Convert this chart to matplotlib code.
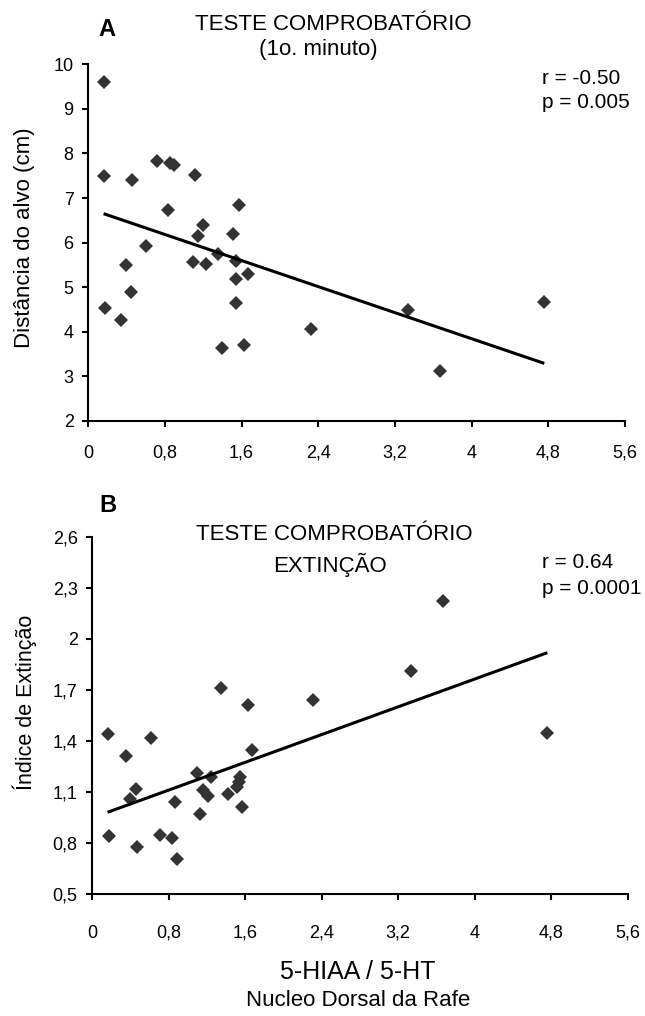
import numpy as np
import matplotlib
matplotlib.use('Agg')
import matplotlib.pyplot as plt

plt.rcParams['font.family'] = ['Liberation Sans', 'DejaVu Sans']

# panel A: distance to target (1st minute)
XA = [0.16, 0.16, 0.46, 0.72, 0.85, 0.89, 1.11, 0.83, 1.57, 1.20,
      1.14, 1.51, 0.60, 0.39, 0.45, 0.17, 0.34, 1.09, 1.23, 1.35,
      1.54, 1.67, 1.54, 1.54, 1.40, 1.63, 2.32, 3.34, 3.67, 4.76]
YA = [9.60, 7.50, 7.40, 7.83, 7.78, 7.74, 7.51, 6.73, 6.84, 6.40,
      6.16, 6.20, 5.93, 5.49, 4.89, 4.53, 4.27, 5.57, 5.53, 5.75,
      5.58, 5.30, 5.18, 4.65, 3.64, 3.71, 4.07, 4.49, 3.13, 4.67]

# panel B: extinction index
XB = [1.35, 1.63, 0.16, 0.61, 0.35, 1.67, 1.10, 1.24, 1.55, 1.53,
      1.51, 0.46, 0.39, 1.16, 1.21, 1.42, 0.87, 1.57, 1.13, 0.17,
      0.47, 0.71, 0.83, 0.89, 2.31, 3.33, 3.67, 4.76]
YB = [1.71, 1.61, 1.44, 1.42, 1.31, 1.35, 1.21, 1.19, 1.19, 1.16,
      1.13, 1.12, 1.06, 1.11, 1.08, 1.09, 1.04, 1.01, 0.97, 0.84,
      0.78, 0.85, 0.83, 0.71, 1.64, 1.81, 2.22, 1.45]

XTICKS = [0, 0.8, 1.6, 2.4, 3.2, 4.0, 4.8, 5.6]
XTICKLABELS = ['0', '0,8', '1,6', '2,4', '3,2', '4', '4,8', '5,6']
YTICKS_A = [2, 3, 4, 5, 6, 7, 8, 9, 10]
YTICKS_B = [0.5, 0.8, 1.1, 1.4, 1.7, 2.0, 2.3, 2.6]
YTICKLABELS_B = ['0,5', '0,8', '1,1', '1,4', '1,7', '2', '2,3', '2,6']

W, H = 645, 1016
fig = plt.figure(figsize=(W / 100, H / 100), dpi=100)

def px(x, y):
    return x / W, 1 - y / H

def axes_px(l, t, r, b):
    return [l / W, 1 - b / H, (r - l) / W, (b - t) / H]

def style(ax, xpad):
    for s in ['top', 'right']:
        ax.spines[s].set_visible(False)
    for s in ['left', 'bottom']:
        ax.spines[s].set_linewidth(1.5)
    ax.tick_params(direction='out', length=4.5, width=1.5, labelsize=13)
    ax.tick_params(axis='y', pad=6)
    ax.tick_params(axis='x', pad=xpad)
    ax.set_xlim(0, 5.6)
    ax.set_xticks(XTICKS)
    ax.set_xticklabels(XTICKLABELS)

def scatter_fit(ax, x, y):
    x = np.array(x)
    y = np.array(y)
    ax.plot(x, y, 'D', color='#333333', ms=7.3, mew=0, clip_on=False)
    k, b = np.polyfit(x, y, 1)
    xx = np.array([x.min(), x.max()])
    ax.plot(xx, k * xx + b, color='black', lw=2.2, solid_capstyle='butt')

# ---- A
axA = fig.add_axes(axes_px(88.3, 64.3, 624.8, 421))
scatter_fit(axA, XA, YA)
axA.set_ylim(2, 10)
axA.set_yticks(YTICKS_A)
style(axA, 12.5)

# ---- B
axB = fig.add_axes(axes_px(92.3, 536.7, 627.7, 894.3))
scatter_fit(axB, XB, YB)
axB.set_ylim(0.5, 2.6)
axB.set_yticks(YTICKS_B)
axB.set_yticklabels(YTICKLABELS_B)
style(axB, 17.5)

# texts
fig.text(*px(107, 29), 'A', fontsize=17, fontweight='bold', ha='center', va='center')
fig.text(*px(333, 25), 'TESTE COMPROBATÓRIO', fontsize=16, ha='center', va='center')
fig.text(*px(318, 50), '(1o. minuto)', fontsize=16, ha='center', va='center')
fig.text(*px(542, 78), 'r = -0.50', fontsize=15, ha='left', va='center')
fig.text(*px(542, 103), 'p = 0.005', fontsize=15, ha='left', va='center')
fig.text(*px(25, 238), 'Distância do alvo (cm)', fontsize=16, rotation=90,
         ha='center', va='center')

fig.text(*px(108, 506), 'B', fontsize=17, fontweight='bold', ha='center', va='center')
fig.text(*px(334, 535), 'TESTE COMPROBATÓRIO', fontsize=16, ha='center', va='center')
fig.text(*px(330, 565), 'EXTINÇÃO', fontsize=16, ha='center', va='center')
fig.text(*px(542, 563), 'r = 0.64', fontsize=15, ha='left', va='center')
fig.text(*px(542, 589), 'p = 0.0001', fontsize=15, ha='left', va='center')
fig.text(*px(25, 702), 'Índice de Extinção', fontsize=15.5, rotation=90,
         ha='center', va='center')

fig.text(*px(358, 972), '5-HIAA / 5-HT', fontsize=18, ha='center', va='center')
fig.text(*px(358, 1000), 'Nucleo Dorsal da Rafe', fontsize=16, ha='center', va='center')

fig.savefig('out.png', dpi=100)
